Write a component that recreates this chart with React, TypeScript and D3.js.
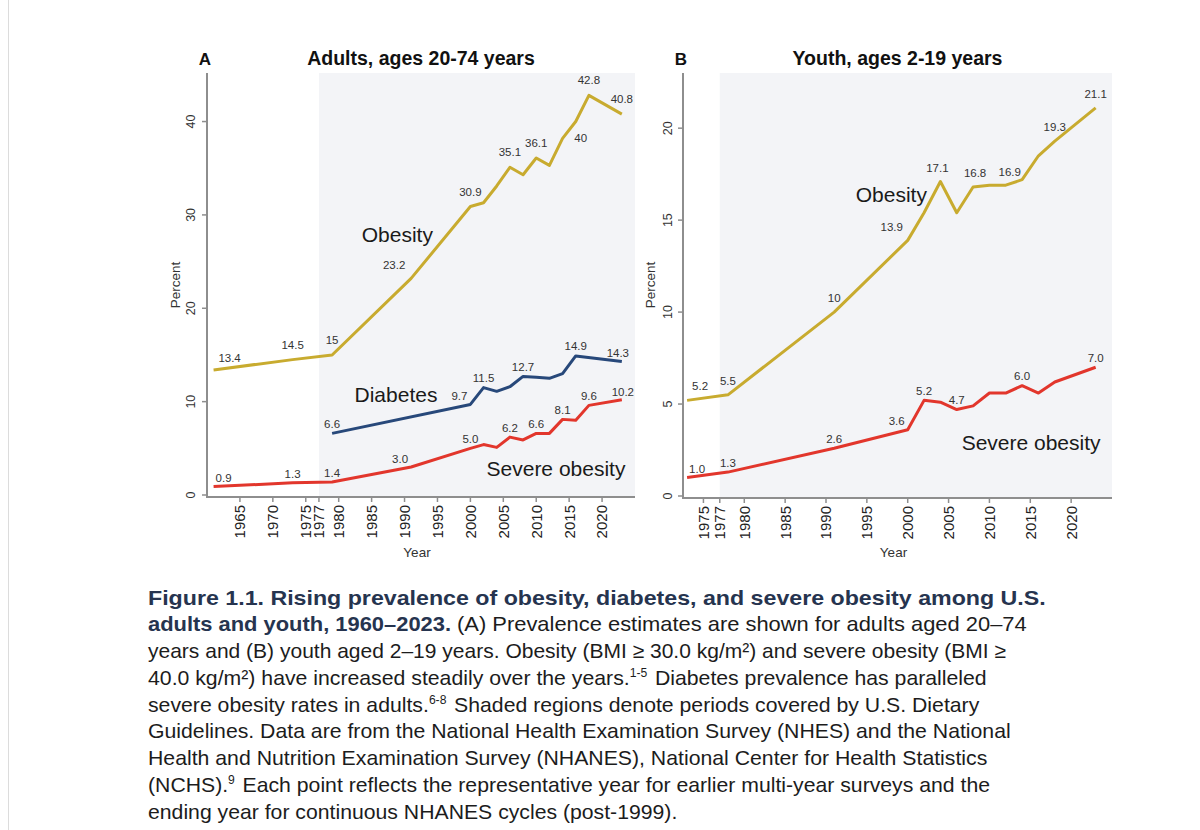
import * as d3 from "d3"

// ---- data ----
// Panel A: adults 20-74
const adultYears = [1961, 1973, 1979, 1991, 2000, 2002, 2004, 2006, 2008, 2010, 2012, 2014, 2016, 2018, 2023]
const adultObesity = [13.4, 14.5, 15.0, 23.2, 30.9, 31.3, 33.1, 35.1, 34.3, 36.1, 35.3, 38.2, 40.0, 42.8, 40.8]
const adultObesityLabels = ["13.4", "14.5", "15", "23.2", "30.9", "", "", "35.1", "", "36.1", "", "", "40", "42.8", "40.8"]
const adultSevere = [0.9, 1.3, 1.4, 3.0, 5.0, 5.4, 5.1, 6.2, 5.9, 6.6, 6.6, 8.1, 8.0, 9.6, 10.2]
const adultSevereLabels = ["0.9", "1.3", "1.4", "3.0", "5.0", "", "", "6.2", "", "6.6", "", "8.1", "", "9.6", "10.2"]

const diabetesYears = [1979, 2000, 2002, 2004, 2006, 2008, 2010, 2012, 2014, 2016, 2023]
const adultDiabetes = [6.6, 9.7, 11.5, 11.1, 11.6, 12.7, 12.6, 12.5, 13.0, 14.9, 14.3]
const adultDiabetesLabels = ["6.6", "9.7", "11.5", "", "", "12.7", "", "", "", "14.9", "14.3"]

// Panel B: youth 2-19
const youthYears = [1973, 1978, 1991, 2000, 2002, 2004, 2006, 2008, 2010, 2012, 2014, 2016, 2018, 2023]
const youthObesity = [5.2, 5.5, 10.0, 13.9, 15.4, 17.1, 15.4, 16.8, 16.9, 16.9, 17.2, 18.5, 19.3, 21.1]
const youthObesityLabels = ["5.2", "5.5", "10", "13.9", "", "17.1", "", "16.8", "", "16.9", "", "", "19.3", "21.1"]
const youthSevere = [1.0, 1.3, 2.6, 3.6, 5.2, 5.1, 4.7, 4.9, 5.6, 5.6, 6.0, 5.6, 6.2, 7.0]
const youthSevereLabels = ["1.0", "1.3", "2.6", "3.6", "5.2", "", "4.7", "", "", "", "6.0", "", "", "7.0"]

const adultXTicks = [1965, 1970, 1975, 1977, 1980, 1985, 1990, 1995, 2000, 2005, 2010, 2015, 2020]
const youthXTicks = [1975, 1977, 1980, 1985, 1990, 1995, 2000, 2005, 2010, 2015, 2020]
const adultYTicks = [0, 10, 20, 30, 40]
const youthYTicks = [0, 5, 10, 15, 20]

const guidelineStart = 1977

const COLORS = {
  obesity: "#c8ab2f",
  diabetes: "#27487a",
  severe: "#e2362c",
  shade: "#f3f4f7",
  axis: "#8e8e8e",
  navy: "#26344f",
}

// label nudges (px from the data point), default per series
const nudges = {
  "A-obesity": { def: [0, -15], 1961: [16, -12], 1991: [-17, -13], 2016: [5, 16] },
  "A-diabetes": { def: [0, -9.5], 2000: [-11, -8], 2023: [-4, -9] },
  "A-severe": { def: [0, -9], 1961: [10, -9], 1991: [-11, -8], 2023: [1, -8] },
  "B-obesity": { def: [0, -14], 1973: [13, -14], 2000: [-16, -13], 2004: [-3, -14], 2008: [2, -14], 2012: [4, -13] },
  "B-severe": { def: [0, -9.5], 1973: [10, -9], 2000: [-11, -9] },
}

const FONT = "'Liberation Sans', Arial, Helvetica, sans-serif"

function Panel({ letter, title, xDomain, xRange, yDomain, yRange, xTicks, yTicks, series, names, yTickX, percentX }) {
  const x = d3.scaleLinear().domain(xDomain).range(xRange)
  const y = d3.scaleLinear().domain(yDomain).range(yRange)
  const axisY = y(0) + 2
  const line = d3.line<[number, number]>().x(d => x(d[0])).y(d => y(d[1]))
  const cx = (xRange[0] + xRange[1]) / 2

  return (
    <g>
      <rect x={x(guidelineStart)} y={yRange[1]} width={xRange[1] - x(guidelineStart)} height={axisY - yRange[1]} fill={COLORS.shade} />
      {/* axes */}
      <line x1={xRange[0]} x2={xRange[0]} y1={yRange[1]} y2={axisY + 1} stroke={COLORS.axis} strokeWidth={2} />
      <line x1={xRange[0] - 1} x2={xRange[1]} y1={axisY} y2={axisY} stroke={COLORS.axis} strokeWidth={2} />
      {yTicks.map(t => (
        <g key={"y" + t}>
          <line x1={xRange[0] - 5} x2={xRange[0]} y1={y(t)} y2={y(t)} stroke={COLORS.axis} strokeWidth={1.5} />
          <text transform={`translate(${yTickX},${y(t)}) rotate(-90)`} textAnchor="middle" dy="0.35em" fontSize={12.5} fill="#333">{t}</text>
        </g>
      ))}
      {xTicks.map(t => (
        <g key={"x" + t}>
          <line x1={x(t)} x2={x(t)} y1={axisY} y2={axisY + 5} stroke={COLORS.axis} strokeWidth={1.5} />
          <text transform={`translate(${x(t)},${axisY + 8}) rotate(-90)`} textAnchor="end" dy="0.36em" fontSize={15} fill="#222">{t}</text>
        </g>
      ))}
      <text x={(xRange[0] + xRange[1]) / 2 - 4} y={557} textAnchor="middle" fontSize={13.5} fill="#333">Year</text>
      <text transform={`translate(${percentX},285) rotate(-90)`} textAnchor="middle" dy="0.35em" fontSize={13.5} fill="#333">Percent</text>

      {/* series */}
      {series.map(s => {
        const pts: [number, number][] = s.years.map((yr, i) => [yr, s.values[i]])
        const nd = nudges[s.key]
        return (
          <g key={s.key}>
            <path d={line(pts)} fill="none" stroke={s.color} strokeWidth={3} strokeLinejoin="round" strokeLinecap="butt" />
            {s.labels.map((lb, i) => {
              if (!lb) return null
              const off = nd[s.years[i]] || nd.def
              return (
                <text key={i} x={x(s.years[i]) + off[0]} y={y(s.values[i]) + off[1]} dy="0.35em" textAnchor="middle" fontSize={11.5} fill="#333">{lb}</text>
              )
            })}
          </g>
        )
      })}
      {names.map(n => (
        <text key={n.text} x={x(n.year)} y={y(n.value)} dy="0.35em" textAnchor="middle" fontSize={21} fill="#1a1a1a">{n.text}</text>
      ))}

      <text x={xRange[0] - 2} y={65} textAnchor="middle" fontSize={17} fontWeight="bold" fill="#111">{letter}</text>
      <text x={cx + 0} y={65} textAnchor="middle" fontSize={19.5} fontWeight="bold" fill="#111">{title}</text>
    </g>
  )
}

function Caption() {
  const x0 = 148
  const base = 604.5
  const step = 26.75
  const sup = (s: string) => (
    <>
      <tspan dy={-8} fontSize={12}>{s}</tspan>
      <tspan dy={8}>{"\u200A"}</tspan>
    </>
  )
  const lines: { end: number, content: any }[] = [
    { end: 1045.7, content: <tspan fontWeight="bold" fill={COLORS.navy}>Figure 1.1. Rising prevalence of obesity, diabetes, and severe obesity among U.S.</tspan> },
    { end: 1026.7, content: <><tspan fontWeight="bold" fill={COLORS.navy}>adults and youth, 1960–2023.</tspan> (A) Prevalence estimates are shown for adults aged 20–74</> },
    { end: 1006, content: <>years and (B) youth aged 2–19 years. Obesity (BMI ≥ 30.0 kg/m²) and severe obesity (BMI ≥</> },
    { end: 986.7, content: <>40.0 kg/m²) have increased steadily over the years.{sup("1-5")} Diabetes prevalence has paralleled</> },
    { end: 979.3, content: <>severe obesity rates in adults.{sup("6-8")} Shaded regions denote periods covered by U.S. Dietary</> },
    { end: 1010.7, content: <>Guidelines. Data are from the National Health Examination Survey (NHES) and the National</> },
    { end: 987.3, content: <>Health and Nutrition Examination Survey (NHANES), National Center for Health Statistics</> },
    { end: 990, content: <>(NCHS).{sup("9")} Each point reflects the representative year for earlier multi-year surveys and the</> },
    { end: 677.3, content: <>ending year for continuous NHANES cycles (post-1999).</> },
  ]
  return (
    <g fontSize={21} fill="#1c1c1c">
      {lines.map((l, i) => (
        <text key={i} x={x0} y={base + i * step} textLength={l.end - x0} lengthAdjust="spacingAndGlyphs">{l.content}</text>
      ))}
    </g>
  )
}

export default function App() {
  const adultSeries = [
    { key: "A-obesity", years: adultYears, values: adultObesity, labels: adultObesityLabels, color: COLORS.obesity },
    { key: "A-diabetes", years: diabetesYears, values: adultDiabetes, labels: adultDiabetesLabels, color: COLORS.diabetes },
    { key: "A-severe", years: adultYears, values: adultSevere, labels: adultSevereLabels, color: COLORS.severe },
  ]
  const youthSeries = [
    { key: "B-obesity", years: youthYears, values: youthObesity, labels: youthObesityLabels, color: COLORS.obesity },
    { key: "B-severe", years: youthYears, values: youthSevere, labels: youthSevereLabels, color: COLORS.severe },
  ]
  return (
    <svg width={1200} height={830} viewBox="0 0 1200 830"
      style={{ position: "absolute", left: 0, top: 0, background: "#fff", fontFamily: FONT }}>
      <rect x={0} y={0} width={1200} height={830} fill="#fff" />
      <line x1={8.5} x2={8.5} y1={0} y2={830} stroke="#dcdcdc" strokeWidth={1} />
      <Panel letter="A" title="Adults, ages 20-74 years"
        xDomain={[1960, 2025]} xRange={[207, 635]}
        yDomain={[0, 45.2]} yRange={[495, 73]}
        xTicks={adultXTicks} yTicks={adultYTicks}
        series={adultSeries}
        names={[
          { text: "Obesity", year: 1988.9, value: 27.85 },
          { text: "Diabetes", year: 1988.7, value: 10.8 },
          { text: "Severe obesity", year: 2013.0, value: 2.8 },
        ]}
        yTickX={190.5} percentX={175} />
      <Panel letter="B" title="Youth, ages 2-19 years"
        xDomain={[1972.5, 2025]} xRange={[683, 1112]}
        yDomain={[0, 23]} yRange={[496, 73]}
        xTicks={youthXTicks} yTicks={youthYTicks}
        series={youthSeries}
        names={[
          { text: "Obesity", year: 1998.0, value: 16.37 },
          { text: "Severe obesity", year: 2015.1, value: 2.92 },
        ]}
        yTickX={668} percentX={650} />
      <Caption />
    </svg>
  )
}
